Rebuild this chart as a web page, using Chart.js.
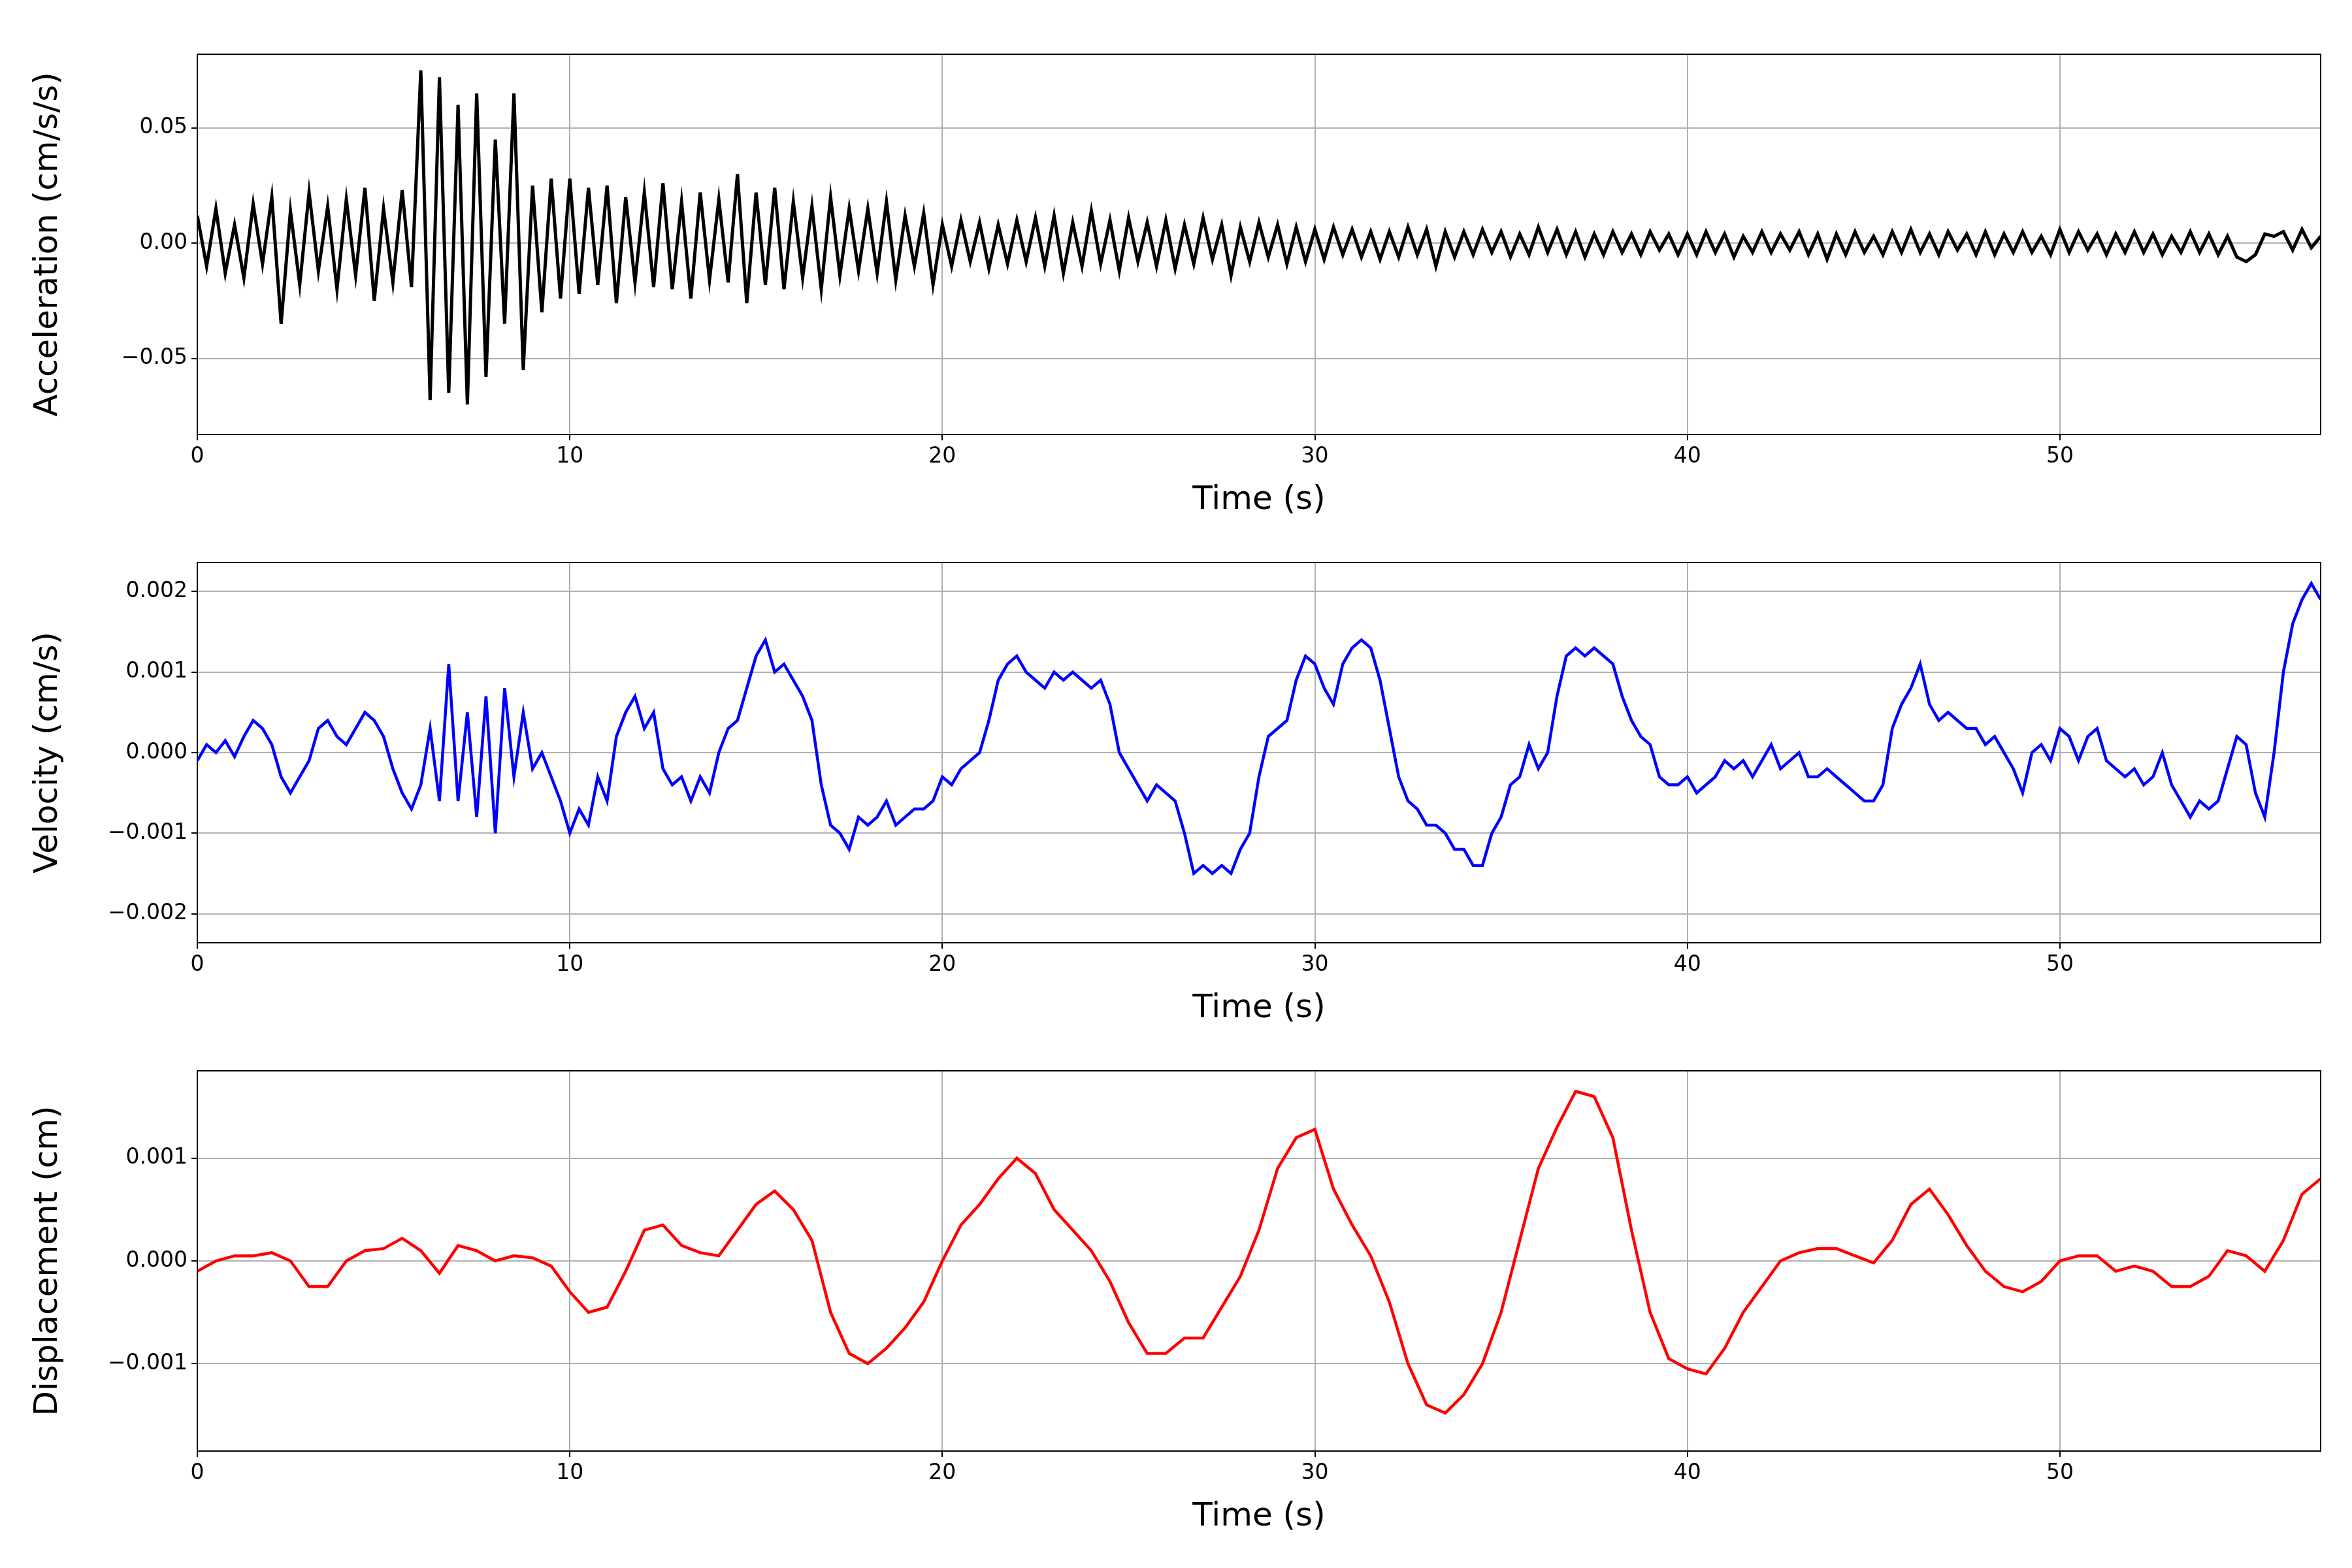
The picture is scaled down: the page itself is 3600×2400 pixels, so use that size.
<!DOCTYPE html>
<html>
<head>
<meta charset="utf-8">
<script src="https://cdn.jsdelivr.net/npm/chart.js@4/dist/chart.umd.min.js"></script>
<style>
body{margin:0;background:#fff;width:3600px;height:2400px;position:relative;overflow:hidden;}
canvas{position:absolute;left:0;}
</style>
</head>
<body>
<canvas id="acc" width="3600" height="800" style="top:0px"></canvas>
<canvas id="vel" width="3600" height="800" style="top:778px"></canvas>
<canvas id="disp" width="3600" height="800" style="top:1556px"></canvas>
<script>
// acceleration, units of 0.01 cm/s/s, every 0.25 s
const accel=[1.2,-1.0,1.5,-1.3,0.8,-1.5,1.7,-0.9,
2.0,-3.5,1.4,-1.8,2.2,-1.2,1.6,-2.0,
1.9,-1.4,2.4,-2.5,1.5,-1.7,2.3,-1.9,
7.5,-6.8,7.2,-6.5,6.0,-7.0,6.5,-5.8,
4.5,-3.5,6.5,-5.5,2.5,-3.0,2.8,-2.4,
2.8,-2.2,2.4,-1.8,2.5,-2.6,2.0,-1.7,
2.2,-1.9,2.6,-2.0,1.8,-2.4,2.2,-1.6,
1.9,-1.7,3.0,-2.6,2.2,-1.8,2.4,-2.0,
1.8,-1.5,1.6,-2.0,2.0,-1.4,1.5,-1.2,
1.5,-1.3,1.8,-1.6,1.2,-1.0,1.3,-1.8,
0.8,-1.0,1.0,-0.8,0.9,-1.1,0.8,-0.9,
1.0,-0.8,1.1,-1.0,1.2,-1.3,0.9,-1.0,
1.4,-0.9,1.0,-1.2,1.1,-0.8,0.9,-1.0,
1.0,-1.1,0.8,-0.9,1.1,-0.7,0.8,-1.4,
0.7,-0.8,0.9,-0.6,0.8,-0.9,0.7,-0.8,
0.6,-0.7,0.7,-0.5,0.6,-0.6,0.5,-0.7,
0.5,-0.6,0.7,-0.5,0.6,-1.0,0.5,-0.6,
0.5,-0.5,0.6,-0.4,0.5,-0.6,0.4,-0.5,
0.7,-0.4,0.6,-0.5,0.5,-0.6,0.4,-0.5,
0.5,-0.4,0.4,-0.5,0.5,-0.3,0.4,-0.5,
0.4,-0.5,0.5,-0.4,0.4,-0.6,0.3,-0.4,
0.5,-0.4,0.4,-0.3,0.5,-0.5,0.4,-0.7,
0.4,-0.5,0.5,-0.4,0.3,-0.5,0.5,-0.4,
0.6,-0.4,0.4,-0.5,0.5,-0.3,0.4,-0.5,
0.5,-0.5,0.4,-0.4,0.5,-0.4,0.3,-0.5,
0.6,-0.4,0.5,-0.3,0.4,-0.5,0.4,-0.4,
0.5,-0.4,0.4,-0.5,0.3,-0.4,0.5,-0.4,
0.4,-0.5,0.3,-0.6,-0.8,-0.5,0.4,0.3,
0.5,-0.3,0.6,-0.2,0.3];
// velocity, units of 0.001 cm/s, every 0.25 s
const velocity=[-0.1,0.1,0.0,0.15,-0.05,0.2,0.4,0.3,
0.1,-0.3,-0.5,-0.3,-0.1,0.3,0.4,0.2,
0.1,0.3,0.5,0.4,0.2,-0.2,-0.5,-0.7,
-0.4,0.3,-0.6,1.1,-0.6,0.5,-0.8,0.7,
-1.0,0.8,-0.3,0.5,-0.2,0.0,-0.3,-0.6,
-1.0,-0.7,-0.9,-0.3,-0.6,0.2,0.5,0.7,
0.3,0.5,-0.2,-0.4,-0.3,-0.6,-0.3,-0.5,
0.0,0.3,0.4,0.8,1.2,1.4,1.0,1.1,
0.9,0.7,0.4,-0.4,-0.9,-1.0,-1.2,-0.8,
-0.9,-0.8,-0.6,-0.9,-0.8,-0.7,-0.7,-0.6,
-0.3,-0.4,-0.2,-0.1,0.0,0.4,0.9,1.1,
1.2,1.0,0.9,0.8,1.0,0.9,1.0,0.9,
0.8,0.9,0.6,0.0,-0.2,-0.4,-0.6,-0.4,
-0.5,-0.6,-1.0,-1.5,-1.4,-1.5,-1.4,-1.5,
-1.2,-1.0,-0.3,0.2,0.3,0.4,0.9,1.2,
1.1,0.8,0.6,1.1,1.3,1.4,1.3,0.9,
0.3,-0.3,-0.6,-0.7,-0.9,-0.9,-1.0,-1.2,
-1.2,-1.4,-1.4,-1.0,-0.8,-0.4,-0.3,0.1,
-0.2,0.0,0.7,1.2,1.3,1.2,1.3,1.2,
1.1,0.7,0.4,0.2,0.1,-0.3,-0.4,-0.4,
-0.3,-0.5,-0.4,-0.3,-0.1,-0.2,-0.1,-0.3,
-0.1,0.1,-0.2,-0.1,0.0,-0.3,-0.3,-0.2,
-0.3,-0.4,-0.5,-0.6,-0.6,-0.4,0.3,0.6,
0.8,1.1,0.6,0.4,0.5,0.4,0.3,0.3,
0.1,0.2,0.0,-0.2,-0.5,0.0,0.1,-0.1,
0.3,0.2,-0.1,0.2,0.3,-0.1,-0.2,-0.3,
-0.2,-0.4,-0.3,0.0,-0.4,-0.6,-0.8,-0.6,
-0.7,-0.6,-0.2,0.2,0.1,-0.5,-0.8,0.0,
1.0,1.6,1.9,2.1,1.9];
// displacement, units of 0.001 cm, every 0.5 s
const displacement=[-0.1,0.0,0.05,0.05,0.08,0.0,-0.25,-0.25,0.0,0.1,
0.12,0.22,0.1,-0.12,0.15,0.1,0.0,0.05,0.03,-0.05,
-0.3,-0.5,-0.45,-0.1,0.3,0.35,0.15,0.08,0.05,0.3,
0.55,0.68,0.5,0.2,-0.5,-0.9,-1.0,-0.85,-0.65,-0.4,
0.0,0.35,0.55,0.8,1.0,0.85,0.5,0.3,0.1,-0.2,
-0.6,-0.9,-0.9,-0.75,-0.75,-0.45,-0.15,0.3,0.9,1.2,
1.28,0.7,0.35,0.05,-0.4,-1.0,-1.4,-1.48,-1.3,-1.0,
-0.5,0.2,0.9,1.3,1.65,1.6,1.2,0.3,-0.5,-0.95,
-1.05,-1.1,-0.85,-0.5,-0.25,0.0,0.08,0.12,0.12,0.05,
-0.02,0.2,0.55,0.7,0.45,0.15,-0.1,-0.25,-0.3,-0.2,
0.0,0.05,0.05,-0.1,-0.05,-0.1,-0.25,-0.25,-0.15,0.1,
0.05,-0.1,0.2,0.65,0.8];

const font='DejaVu Sans';
function fmt(v,d){const s=Math.abs(v).toFixed(d);return v<-1e-12?'\u2212'+s:s;}
function keepSteps(step){
  return s=>{s.ticks=s.ticks.filter(t=>Math.abs(t.value/step-Math.round(t.value/step))<1e-6).map(t=>({value:Math.round(t.value/step)*step}));};
}
const frame={id:'frame',afterDraw(c){
  const a=c.chartArea,ctx=c.ctx;
  ctx.save();ctx.strokeStyle='#000';ctx.lineWidth=2;
  ctx.strokeRect(a.left,a.top,a.right-a.left,a.bottom-a.top);ctx.restore();
}};

function panel(id,vals,dt,scale,color,lw,yMin,yMax,step,digits,title){
  const pts=vals.map((v,i)=>({x:i*dt,y:v*scale}));
  new Chart(document.getElementById(id),{
    type:'line',
    data:{datasets:[{data:pts,borderColor:color,borderWidth:lw,pointRadius:0,tension:0,fill:false}]},
    plugins:[frame],
    options:{
      responsive:false,animation:false,devicePixelRatio:1,
      layout:{padding:{top:83,right:48,bottom:0,left:40}},
      plugins:{legend:{display:false},tooltip:{enabled:false}},
      scales:{
        x:{type:'linear',min:0,max:57,
          ticks:{stepSize:10,color:'#000',font:{family:font,size:33},padding:6,maxRotation:0},
          afterBuildTicks:keepSteps(10),
          grid:{color:'#b0b0b0',lineWidth:2,tickColor:'#000',tickLength:9},
          border:{color:'#000',width:2},
          title:{display:true,text:'Time (s)',color:'#000',font:{family:font,size:50},padding:{top:2}},
          afterFit:s=>{s.height=135;}},
        y:{min:yMin,max:yMax,
          ticks:{stepSize:step,color:'#000',font:{family:font,size:33},padding:6,callback:v=>fmt(v,digits)},
          afterBuildTicks:keepSteps(step),
          grid:{color:'#b0b0b0',lineWidth:2,tickColor:'#000',tickLength:9},
          border:{color:'#000',width:2},
          title:{display:true,text:title,color:'#000',font:{family:font,size:50},padding:{bottom:4}},
          afterFit:s=>{s.width=262;}}
      }
    }
  });
}

panel('acc',accel,0.25,0.01,'#000',5,-0.083,0.082,0.05,2,'Acceleration (cm/s/s)');
panel('vel',velocity,0.25,0.001,'#0000ff',4.5,-0.00236,0.00236,0.001,3,'Velocity (cm/s)');
panel('disp',displacement,0.5,0.001,'#ff0000',4.5,-0.00185,0.00185,0.001,3,'Displacement (cm)');
</script>
</body>
</html>
